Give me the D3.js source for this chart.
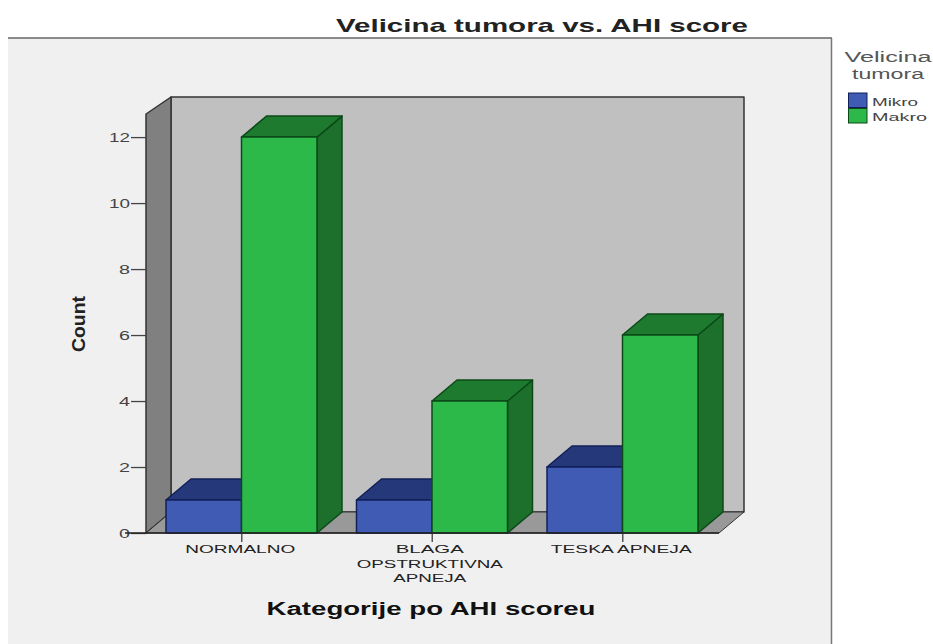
<!DOCTYPE html>
<html>
<meta charset="utf-8">
<script src="https://cdn.jsdelivr.net/npm/d3@7"></script>
<style>
  html, body { margin: 0; padding: 0; background: white; overflow: hidden; }
  text { font-family: "Liberation Sans", Arial, sans-serif; }
</style>
<body>
<svg id="chart" width="933" height="644"></svg>
<script>

var categories = [["NORMALNO"], ["BLAGA", "OPSTRUKTIVNA", "APNEJA"], ["TESKA APNEJA"]]
var seriesNames = ["Mikro", "Makro"]
var mikro = [1, 1, 2]
var makro = [12, 4, 6]
var yTicks = [0, 2, 4, 6, 8, 10, 12]
var yMax = 12.7

var titleText = "Velicina tumora vs. AHI score"
var xTitle = "Kategorije po AHI scoreu"
var yTitle = "Count"
var legendTitle = ["Velicina", "tumora"]

// colours per series: front, top, side
var cols = {
  Mikro: {front: "#3f5bb4", top: "#24387a", side: "#1f3168", line: "#12205a"},
  Makro: {front: "#2db84a", top: "#1d7a2e", side: "#1c702c", line: "#0b4a18"}
}

var tickLabelWidth = {"NORMALNO": 110, "BLAGA": 68, "OPSTRUKTIVNA": 146, "APNEJA": 73, "TESKA APNEJA": 141}

var svg = d3.select("#chart")

var depthX = 25, depthY = 21
var x0 = d3.scaleBand().domain(d3.range(categories.length)).range([146, 717.5])
var x1 = d3.scaleBand().domain(seriesNames).range([20, 171])
var y = d3.scaleLinear().domain([0, yMax]).range([533, 114])

var floorY = y(0), topY = y(yMax), leftX = x0.range()[0], rightX = x0.range()[1] + 1.5

function poly(pts, fill, stroke, sw) {
  return svg.append("polygon")
    .attr("points", pts.map(function(d) { return d.join(",") }).join(" "))
    .attr("fill", fill)
    .attr("stroke", stroke || "none")
    .attr("stroke-width", sw || 0)
    .attr("stroke-linejoin", "round")
}

function label(str, cx, cy, width, size, weight, fill) {
  return svg.append("text")
    .attr("x", cx).attr("y", cy)
    .attr("text-anchor", "middle")
    .attr("dominant-baseline", "central")
    .attr("font-size", size)
    .attr("font-weight", weight || "normal")
    .attr("fill", fill || "#1a1a1a")
    .attr("textLength", width)
    .attr("lengthAdjust", "spacingAndGlyphs")
    .text(str)
}

// panel
svg.append("rect").attr("x", 8).attr("y", 38).attr("width", 823).attr("height", 620).attr("fill", "#f0f0f0")
svg.append("line").attr("x1", 8).attr("x2", 832).attr("y1", 38).attr("y2", 38).attr("stroke", "#666").attr("stroke-width", 1.5)
svg.append("line").attr("x1", 831.5).attr("x2", 831.5).attr("y1", 38).attr("y2", 644).attr("stroke", "#777").attr("stroke-width", 1.5)

label(titleText, 542, 25, 412, 18.5, "bold", "#222")

// back wall, left wall, floor
poly([[leftX + depthX, topY - depthY + 4], [rightX + depthX, topY - depthY + 4], [rightX + depthX, floorY - depthY], [leftX + depthX, floorY - depthY]], "#c0c0c0", "#333", 1.5)
poly([[leftX, topY], [leftX + depthX, topY - depthY + 4], [leftX + depthX, floorY - depthY], [leftX, floorY]], "#808080", "#333", 1.5)
poly([[leftX, floorY], [leftX + depthX, floorY - depthY], [rightX + depthX, floorY - depthY], [rightX, floorY]], "#999999", "#333", 1)

// bars, back to front
function drawBar(i, name, value) {
  var c = cols[name]
  var a = x0(i) + x1(name), b = a + x1.bandwidth(), t = y(value), base = y(0)
  poly([[b, t], [b + depthX, t - depthY], [b + depthX, base - depthY], [b, base]], c.side, c.line, 1.5)
  poly([[a, t], [a + depthX, t - depthY], [b + depthX, t - depthY], [b, t]], c.top, c.line, 1.5)
  poly([[a, t], [b, t], [b, base], [a, base]], c.front, c.line, 1.5)
}

categories.forEach(function(d, i) {
  drawBar(i, "Mikro", mikro[i])
  drawBar(i, "Makro", makro[i])
})

// axes
var yAxis = d3.axisLeft(y).tickValues(yTicks).tickSize(15).tickPadding(1)
var gy = svg.append("g").attr("transform", "translate(" + leftX + ",0)").call(yAxis)
gy.select(".domain").remove()
gy.selectAll("line").attr("stroke", "#444").attr("stroke-width", 1.3)
gy.selectAll("text")
  .attr("font-size", 13)
  .attr("fill", "#444")
  .attr("textLength", function(d) { return d >= 10 ? 21 : 11 })
  .attr("lengthAdjust", "spacingAndGlyphs")

var xAxis = d3.axisBottom(d3.scalePoint().domain(d3.range(categories.length)).range([x0(0) + x0.bandwidth() / 2, x0(2) + x0.bandwidth() / 2]))
  .tickSize(9).tickFormat("")
var gx = svg.append("g").attr("transform", "translate(0," + floorY + ")").call(xAxis)
gx.select(".domain").remove()
gx.selectAll("line").attr("stroke", "#555").attr("stroke-width", 1.5)
svg.append("line").attr("x1", 125).attr("x2", rightX).attr("y1", floorY).attr("y2", floorY).attr("stroke", "#222").attr("stroke-width", 1.5)

var lineY = [549, 564, 577.5]
categories.forEach(function(lines, i) {
  var cx = x0(i) + x0.bandwidth() / 2
  lines.forEach(function(str, j) {
    label(str, cx - (lines.length == 1 ? 1 : 2), lineY[j], tickLabelWidth[str], 11.5, "normal", "#222")
  })
})

label(xTitle, 431, 609, 329, 17.5, "bold", "#111")

label(yTitle, 0, 0, 56, 19, "bold", "#222")
  .attr("x", null).attr("y", null)
  .attr("transform", "translate(78,324) rotate(-90)")

// legend
label(legendTitle[0], 888, 56, 87, 15.5, "normal", "#555")
label(legendTitle[1], 888, 74, 72, 14, "normal", "#555")

var legendY = d3.scalePoint().domain(seriesNames).range([100, 115.5])
var legendLabelWidth = {Mikro: 46, Makro: 55}
seriesNames.forEach(function(name) {
  svg.append("rect")
    .attr("x", 848.5).attr("y", legendY(name) - 7)
    .attr("width", 18.5).attr("height", 14.5)
    .attr("fill", cols[name].front)
    .attr("stroke", cols[name].line)
  svg.append("text")
    .attr("x", 872).attr("y", legendY(name) + 1.5)
    .attr("dominant-baseline", "central")
    .attr("font-size", 10.5)
    .attr("fill", "#444")
    .attr("textLength", legendLabelWidth[name])
    .attr("lengthAdjust", "spacingAndGlyphs")
    .text(name)
})

</script>
</body>
</html>
